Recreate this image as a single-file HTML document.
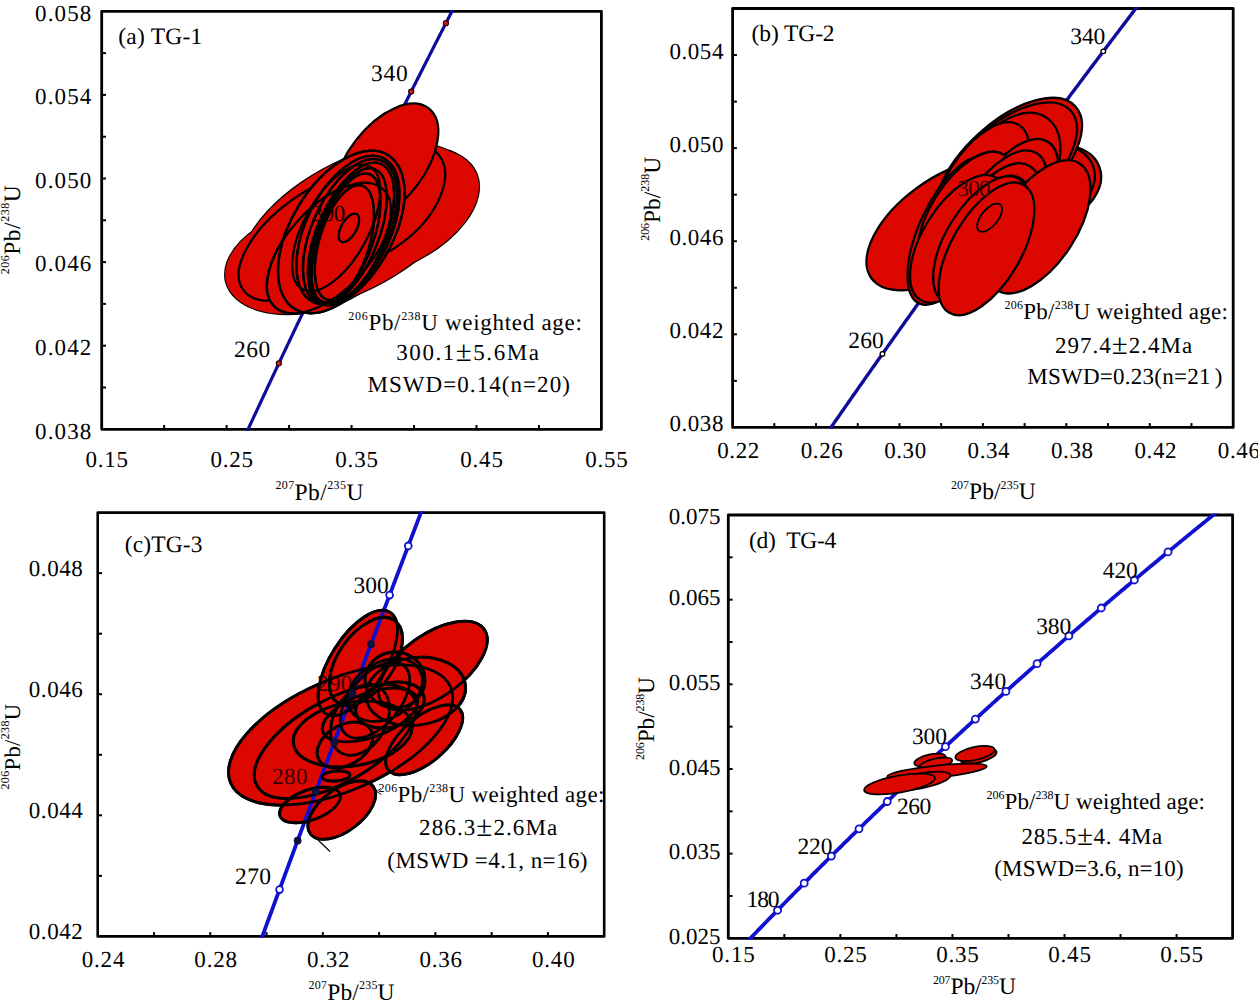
<!DOCTYPE html>
<html><head><meta charset="utf-8"><style>
html,body{margin:0;padding:0;background:#fff;}
body{width:1258px;height:1000px;overflow:hidden;}
svg{display:block;}
text{text-rendering:geometricPrecision;}
</style></head><body>
<svg width="1258" height="1000" viewBox="0 0 1258 1000" font-family='"Liberation Serif", serif'>
<rect width="1258" height="1000" fill="#fff"/>
<rect x="101.70" y="11.30" width="499.70" height="418.00" fill="none" stroke="#000" stroke-width="2.8" stroke-linejoin="round"/>
<clipPath id="clip1"><rect x="100.30" y="9.90" width="502.50" height="420.80"/></clipPath>
<polyline points="244.24,437.58 245.07,435.79 245.90,433.99 246.73,432.20 247.56,430.40 248.39,428.61 249.22,426.82 250.05,425.02 250.88,423.23 251.72,421.43 252.55,419.64 253.38,417.84 254.22,416.05 255.05,414.25 255.89,412.46 256.72,410.66 257.56,408.87 258.39,407.07 259.23,405.27 260.07,403.48 260.91,401.68 261.74,399.88 262.58,398.09 263.42,396.29 264.26,394.49 265.10,392.70 265.94,390.90 266.78,389.10 267.62,387.30 268.46,385.51 269.31,383.71 270.15,381.91 270.99,380.11 271.84,378.32 272.68,376.52 273.52,374.72 274.37,372.92 275.21,371.12 276.06,369.32 276.91,367.52 277.75,365.72 278.60,363.92 279.45,362.12 280.29,360.32 281.14,358.52 281.99,356.72 282.84,354.92 283.69,353.12 284.54,351.32 285.39,349.52 286.24,347.72 287.09,345.92 287.94,344.12 288.80,342.32 289.65,340.52 290.50,338.72 291.36,336.91 292.21,335.11 293.07,333.31 293.92,331.51 294.78,329.71 295.63,327.90 296.49,326.10 297.34,324.30 298.20,322.50 299.06,320.69 299.92,318.89 300.78,317.09 301.64,315.28 302.50,313.48 303.36,311.68 304.22,309.87 305.08,308.07 305.94,306.26 306.80,304.46 307.66,302.65 308.52,300.85 309.39,299.04 310.25,297.24 311.11,295.43 311.98,293.63 312.84,291.82 313.71,290.02 314.58,288.21 315.44,286.41 316.31,284.60 317.18,282.80 318.04,280.99 318.91,279.18 319.78,277.38 320.65,275.57 321.52,273.76 322.39,271.96 323.26,270.15 324.13,268.34 325.00,266.53 325.87,264.73 326.74,262.92 327.62,261.11 328.49,259.30 329.36,257.49 330.24,255.68 331.11,253.88 331.99,252.07 332.86,250.26 333.74,248.45 334.62,246.64 335.49,244.83 336.37,243.02 337.25,241.21 338.13,239.40 339.00,237.59 339.88,235.78 340.76,233.97 341.64,232.16 342.52,230.35 343.40,228.54 344.29,226.73 345.17,224.92 346.05,223.11 346.93,221.30 347.82,219.49 348.70,217.67 349.58,215.86 350.47,214.05 351.35,212.24 352.24,210.43 353.13,208.61 354.01,206.80 354.90,204.99 355.79,203.18 356.67,201.36 357.56,199.55 358.45,197.74 359.34,195.92 360.23,194.11 361.12,192.30 362.01,190.48 362.90,188.67 363.79,186.86 364.69,185.04 365.58,183.23 366.47,181.41 367.37,179.60 368.26,177.78 369.15,175.97 370.05,174.15 370.95,172.34 371.84,170.52 372.74,168.71 373.63,166.89 374.53,165.07 375.43,163.26 376.33,161.44 377.23,159.63 378.13,157.81 379.03,155.99 379.93,154.18 380.83,152.36 381.73,150.54 382.63,148.72 383.53,146.91 384.43,145.09 385.34,143.27 386.24,141.45 387.14,139.64 388.05,137.82 388.95,136.00 389.86,134.18 390.76,132.36 391.67,130.54 392.58,128.73 393.48,126.91 394.39,125.09 395.30,123.27 396.21,121.45 397.12,119.63 398.03,117.81 398.94,115.99 399.85,114.17 400.76,112.35 401.67,110.53 402.58,108.71 403.50,106.89 404.41,105.07 405.32,103.25 406.24,101.42 407.15,99.60 408.07,97.78 408.98,95.96 409.90,94.14 410.81,92.32 411.73,90.49 412.65,88.67 413.56,86.85 414.48,85.03 415.40,83.20 416.32,81.38 417.24,79.56 418.16,77.74 419.08,75.91 420.00,74.09 420.92,72.27 421.85,70.44 422.77,68.62 423.69,66.79 424.62,64.97 425.54,63.15 426.46,61.32 427.39,59.50 428.32,57.67 429.24,55.85 430.17,54.02 431.09,52.20 432.02,50.37 432.95,48.55 433.88,46.72 434.81,44.89 435.74,43.07 436.67,41.24 437.60,39.42 438.53,37.59 439.46,35.76 440.39,33.94 441.32,32.11 442.26,30.28 443.19,28.45 444.12,26.63 445.06,24.80 445.99,22.97 446.93,21.14 447.86,19.32 448.80,17.49 449.74,15.66 450.67,13.83 451.61,12.00 452.55,10.17 453.49,8.35 454.43,6.52 455.37,4.69 456.31,2.86" fill="none" stroke="#0e0c9c" stroke-width="3.2" clip-path="url(#clip1)"/>
<circle cx="278.88" cy="363.32" r="2.5" fill="#cc2020" stroke="#300" stroke-width="1.3"/>
<circle cx="310.99" cy="295.70" r="2.5" fill="#cc2020" stroke="#300" stroke-width="1.3"/>
<circle cx="343.73" cy="227.88" r="2.5" fill="#cc2020" stroke="#300" stroke-width="1.3"/>
<circle cx="377.12" cy="159.84" r="2.5" fill="#cc2020" stroke="#300" stroke-width="1.3"/>
<circle cx="411.18" cy="91.59" r="2.5" fill="#cc2020" stroke="#300" stroke-width="1.3"/>
<circle cx="445.91" cy="23.13" r="2.5" fill="#cc2020" stroke="#300" stroke-width="1.3"/>
<ellipse cx="381.5" cy="213.2" rx="102.8" ry="57.7" transform="rotate(-22.7 381.5 213.2)" fill="#dc0800" stroke="#000" stroke-width="2.3"/>
<ellipse cx="308.6" cy="260.6" rx="85.2" ry="50.5" transform="rotate(-14.7 308.6 260.6)" fill="#dc0800" stroke="#000" stroke-width="2.3"/>
<ellipse cx="353.1" cy="225.8" rx="125.4" ry="63.7" transform="rotate(-29.0 353.1 225.8)" fill="#dc0800" stroke="#000" stroke-width="2.3"/>
<ellipse cx="381.5" cy="213.2" rx="102.8" ry="57.7" transform="rotate(-22.7 381.5 213.2)" fill="#dc0800"/>
<ellipse cx="308.6" cy="260.6" rx="85.2" ry="50.5" transform="rotate(-14.7 308.6 260.6)" fill="#dc0800"/>
<ellipse cx="353.1" cy="225.8" rx="125.4" ry="63.7" transform="rotate(-29.0 353.1 225.8)" fill="#dc0800"/>
<ellipse cx="316" cy="237" rx="90" ry="44" transform="rotate(-36 316 237)" fill="#dc0800" stroke="#000" stroke-width="2.3"/>
<ellipse cx="375.6" cy="204.1" rx="80" ry="46.9" transform="rotate(-37.8 375.6 204.1)" fill="#dc0800" stroke="#000" stroke-width="2.3"/>
<ellipse cx="386.2" cy="163.2" rx="69.4" ry="38" transform="rotate(-52.2 386.2 163.2)" fill="#dc0800" stroke="#000" stroke-width="2.3"/>
<ellipse cx="328.9" cy="248.1" rx="80" ry="41.4" transform="rotate(-47.6 328.9 248.1)" fill="#dc0800" stroke="#000" stroke-width="2.3"/>
<ellipse cx="336.2" cy="228.0" rx="70" ry="32.2" transform="rotate(-61.2 336.2 228.0)" fill="#dc0800" stroke="#000" stroke-width="2.3"/>
<ellipse cx="341.3" cy="232.0" rx="90" ry="50.1" transform="rotate(-58.9 341.3 232.0)" fill="#dc0800" stroke="#000" stroke-width="2.3"/>
<ellipse cx="348" cy="230" rx="80" ry="42" transform="rotate(-64 348 230)" fill="#dc0800" stroke="#000" stroke-width="2.3"/>
<ellipse cx="350" cy="232" rx="78" ry="38" transform="rotate(-66 350 232)" fill="#dc0800" stroke="#000" stroke-width="2.3"/>
<ellipse cx="351" cy="234" rx="76" ry="34" transform="rotate(-67 351 234)" fill="#dc0800" stroke="#000" stroke-width="2.3"/>
<ellipse cx="348" cy="236" rx="72" ry="30" transform="rotate(-68 348 236)" fill="#dc0800" stroke="#000" stroke-width="2.3"/>
<ellipse cx="346" cy="238" rx="68" ry="27" transform="rotate(-70 346 238)" fill="#dc0800" stroke="#000" stroke-width="2.3"/>
<ellipse cx="344.4" cy="242.5" rx="59.6" ry="25.0" transform="rotate(-73.0 344.4 242.5)" fill="#dc0800" stroke="#000" stroke-width="2.3"/>
<ellipse cx="348.9" cy="227.9" rx="15.8" ry="7.7" transform="rotate(-60.7 348.9 227.9)" fill="#dc0800" stroke="#000" stroke-width="2.3"/>
<ellipse cx="328.9" cy="248.1" rx="80" ry="41.4" transform="rotate(-47.6 328.9 248.1)" fill="none" stroke="#000" stroke-width="2.3"/>
<ellipse cx="336.2" cy="228.0" rx="70" ry="32.2" transform="rotate(-61.2 336.2 228.0)" fill="none" stroke="#000" stroke-width="2.3"/>
<ellipse cx="341.3" cy="232.0" rx="90" ry="50.1" transform="rotate(-58.9 341.3 232.0)" fill="none" stroke="#000" stroke-width="2.3"/>
<ellipse cx="348" cy="230" rx="80" ry="42" transform="rotate(-64 348 230)" fill="none" stroke="#000" stroke-width="2.3"/>
<ellipse cx="350" cy="232" rx="78" ry="38" transform="rotate(-66 350 232)" fill="none" stroke="#000" stroke-width="2.3"/>
<ellipse cx="351" cy="234" rx="76" ry="34" transform="rotate(-67 351 234)" fill="none" stroke="#000" stroke-width="2.3"/>
<ellipse cx="348" cy="236" rx="72" ry="30" transform="rotate(-68 348 236)" fill="none" stroke="#000" stroke-width="2.3"/>
<ellipse cx="346" cy="238" rx="68" ry="27" transform="rotate(-70 346 238)" fill="none" stroke="#000" stroke-width="2.3"/>
<ellipse cx="344.4" cy="242.5" rx="59.6" ry="25.0" transform="rotate(-73.0 344.4 242.5)" fill="none" stroke="#000" stroke-width="2.3"/>
<ellipse cx="348.9" cy="227.9" rx="15.8" ry="7.7" transform="rotate(-60.7 348.9 227.9)" fill="none" stroke="#000" stroke-width="1.6"/>
<text x="311.20" y="220.60" font-size="23" textLength="34.00" lengthAdjust="spacing" fill="#120000" >300</text>
<line x1="164.16" y1="429.30" x2="164.16" y2="425.00" stroke="#000" stroke-width="2.0"/>
<line x1="226.62" y1="429.30" x2="226.62" y2="425.00" stroke="#000" stroke-width="2.0"/>
<line x1="289.09" y1="429.30" x2="289.09" y2="425.00" stroke="#000" stroke-width="2.0"/>
<line x1="351.55" y1="429.30" x2="351.55" y2="425.00" stroke="#000" stroke-width="2.0"/>
<line x1="414.01" y1="429.30" x2="414.01" y2="425.00" stroke="#000" stroke-width="2.0"/>
<line x1="476.48" y1="429.30" x2="476.48" y2="425.00" stroke="#000" stroke-width="2.0"/>
<line x1="538.94" y1="429.30" x2="538.94" y2="425.00" stroke="#000" stroke-width="2.0"/>
<line x1="101.70" y1="387.50" x2="106.00" y2="387.50" stroke="#000" stroke-width="2.0"/>
<line x1="101.70" y1="345.70" x2="106.00" y2="345.70" stroke="#000" stroke-width="2.0"/>
<line x1="101.70" y1="303.90" x2="106.00" y2="303.90" stroke="#000" stroke-width="2.0"/>
<line x1="101.70" y1="262.10" x2="106.00" y2="262.10" stroke="#000" stroke-width="2.0"/>
<line x1="101.70" y1="220.30" x2="106.00" y2="220.30" stroke="#000" stroke-width="2.0"/>
<line x1="101.70" y1="178.50" x2="106.00" y2="178.50" stroke="#000" stroke-width="2.0"/>
<line x1="101.70" y1="136.70" x2="106.00" y2="136.70" stroke="#000" stroke-width="2.0"/>
<line x1="101.70" y1="94.90" x2="106.00" y2="94.90" stroke="#000" stroke-width="2.0"/>
<line x1="101.70" y1="53.10" x2="106.00" y2="53.10" stroke="#000" stroke-width="2.0"/>
<text x="107.20" y="466.50" font-size="23" text-anchor="middle" letter-spacing="0.8" fill="#000" >0.15</text>
<text x="232.12" y="466.50" font-size="23" text-anchor="middle" letter-spacing="0.8" fill="#000" >0.25</text>
<text x="357.05" y="466.50" font-size="23" text-anchor="middle" letter-spacing="0.8" fill="#000" >0.35</text>
<text x="481.98" y="466.50" font-size="23" text-anchor="middle" letter-spacing="0.8" fill="#000" >0.45</text>
<text x="606.90" y="466.50" font-size="23" text-anchor="middle" letter-spacing="0.8" fill="#000" >0.55</text>
<text x="35.10" y="438.60" font-size="23" textLength="56.20" lengthAdjust="spacing" fill="#000" >0.038</text>
<text x="35.10" y="355.00" font-size="23" textLength="56.20" lengthAdjust="spacing" fill="#000" >0.042</text>
<text x="35.10" y="271.40" font-size="23" textLength="56.20" lengthAdjust="spacing" fill="#000" >0.046</text>
<text x="35.10" y="187.80" font-size="23" textLength="56.20" lengthAdjust="spacing" fill="#000" >0.050</text>
<text x="35.10" y="104.20" font-size="23" textLength="56.20" lengthAdjust="spacing" fill="#000" >0.054</text>
<text x="35.10" y="20.60" font-size="23" textLength="56.20" lengthAdjust="spacing" fill="#000" >0.058</text>
<text x="275.40" y="499.50" font-size="23.5" textLength="88" lengthAdjust="spacing"><tspan font-size="12" dy="-10.7">207</tspan><tspan dy="10.7">Pb/</tspan><tspan font-size="12" dy="-10.7">235</tspan><tspan dy="10.7">U</tspan></text>
<text transform="translate(19.80,274.30) rotate(-90)" x="0" y="0" font-size="23.5" textLength="89" lengthAdjust="spacing"><tspan font-size="12" dy="-10.7">206</tspan><tspan dy="10.7">Pb/</tspan><tspan font-size="12" dy="-10.7">238</tspan><tspan dy="10.7">U</tspan></text>
<text x="118.30" y="43.60" font-size="23.5" textLength="84.00" lengthAdjust="spacing" fill="#000" >(a) TG-1</text>
<text x="371.10" y="81.40" font-size="23.5" textLength="36.70" lengthAdjust="spacing" fill="#000" >340</text>
<text x="233.90" y="357.40" font-size="23.5" textLength="36.30" lengthAdjust="spacing" fill="#000" >260</text>
<text x="348.30" y="329.80" font-size="23" textLength="233.50" lengthAdjust="spacing"><tspan font-size="12" dy="-10.3">206</tspan><tspan dy="10.3">Pb/</tspan><tspan font-size="12" dy="-10.3">238</tspan><tspan dy="10.3">U weighted age:</tspan></text>
<text x="396.30" y="359.80" font-size="23" textLength="142.60" lengthAdjust="spacing" fill="#000" >300.1<tspan font-size="29" dy="1">&#177;</tspan><tspan dy="-1">5.6Ma</tspan></text>
<text x="367.40" y="392.30" font-size="23" textLength="202.50" lengthAdjust="spacing" fill="#000" >MSWD=0.14(n=20)</text>
<rect x="732.60" y="8.50" width="500.60" height="418.90" fill="none" stroke="#000" stroke-width="2.8" stroke-linejoin="round"/>
<clipPath id="clip2"><rect x="731.20" y="7.10" width="503.40" height="421.70"/></clipPath>
<polyline points="825.21,435.70 826.46,433.91 827.71,432.11 828.96,430.31 830.21,428.51 831.46,426.71 832.71,424.91 833.96,423.11 835.21,421.31 836.46,419.51 837.72,417.71 838.97,415.91 840.23,414.11 841.48,412.31 842.74,410.50 843.99,408.70 845.25,406.90 846.51,405.10 847.76,403.30 849.02,401.50 850.28,399.70 851.54,397.90 852.80,396.09 854.06,394.29 855.32,392.49 856.58,390.69 857.85,388.88 859.11,387.08 860.37,385.28 861.64,383.48 862.90,381.67 864.17,379.87 865.43,378.07 866.70,376.26 867.97,374.46 869.24,372.66 870.50,370.85 871.77,369.05 873.04,367.24 874.31,365.44 875.59,363.64 876.86,361.83 878.13,360.03 879.40,358.22 880.67,356.42 881.95,354.61 883.22,352.81 884.50,351.00 885.77,349.20 887.05,347.39 888.33,345.58 889.61,343.78 890.88,341.97 892.16,340.17 893.44,338.36 894.72,336.55 896.00,334.75 897.28,332.94 898.57,331.13 899.85,329.33 901.13,327.52 902.41,325.71 903.70,323.91 904.98,322.10 906.27,320.29 907.55,318.48 908.84,316.67 910.13,314.87 911.42,313.06 912.71,311.25 913.99,309.44 915.28,307.63 916.57,305.82 917.87,304.02 919.16,302.21 920.45,300.40 921.74,298.59 923.04,296.78 924.33,294.97 925.62,293.16 926.92,291.35 928.21,289.54 929.51,287.73 930.81,285.92 932.11,284.11 933.40,282.30 934.70,280.49 936.00,278.68 937.30,276.87 938.60,275.06 939.90,273.25 941.21,271.43 942.51,269.62 943.81,267.81 945.12,266.00 946.42,264.19 947.73,262.38 949.03,260.56 950.34,258.75 951.64,256.94 952.95,255.13 954.26,253.31 955.57,251.50 956.88,249.69 958.19,247.88 959.50,246.06 960.81,244.25 962.12,242.44 963.43,240.62 964.75,238.81 966.06,237.00 967.38,235.18 968.69,233.37 970.01,231.55 971.32,229.74 972.64,227.92 973.96,226.11 975.28,224.30 976.59,222.48 977.91,220.67 979.23,218.85 980.55,217.03 981.87,215.22 983.20,213.40 984.52,211.59 985.84,209.77 987.17,207.96 988.49,206.14 989.82,204.32 991.14,202.51 992.47,200.69 993.79,198.87 995.12,197.06 996.45,195.24 997.78,193.42 999.11,191.61 1000.44,189.79 1001.77,187.97 1003.10,186.15 1004.43,184.34 1005.76,182.52 1007.10,180.70 1008.43,178.88 1009.76,177.06 1011.10,175.25 1012.44,173.43 1013.77,171.61 1015.11,169.79 1016.45,167.97 1017.78,166.15 1019.12,164.33 1020.46,162.51 1021.80,160.69 1023.14,158.87 1024.48,157.05 1025.83,155.23 1027.17,153.41 1028.51,151.59 1029.86,149.77 1031.20,147.95 1032.55,146.13 1033.89,144.31 1035.24,142.49 1036.59,140.67 1037.93,138.85 1039.28,137.03 1040.63,135.21 1041.98,133.39 1043.33,131.56 1044.68,129.74 1046.03,127.92 1047.39,126.10 1048.74,124.28 1050.09,122.45 1051.45,120.63 1052.80,118.81 1054.16,116.99 1055.51,115.16 1056.87,113.34 1058.23,111.52 1059.58,109.69 1060.94,107.87 1062.30,106.05 1063.66,104.22 1065.02,102.40 1066.38,100.58 1067.74,98.75 1069.11,96.93 1070.47,95.10 1071.83,93.28 1073.20,91.45 1074.56,89.63 1075.93,87.80 1077.30,85.98 1078.66,84.15 1080.03,82.33 1081.40,80.50 1082.77,78.68 1084.14,76.85 1085.51,75.03 1086.88,73.20 1088.25,71.37 1089.62,69.55 1090.99,67.72 1092.37,65.89 1093.74,64.07 1095.12,62.24 1096.49,60.41 1097.87,58.59 1099.24,56.76 1100.62,54.93 1102.00,53.10 1103.38,51.28 1104.76,49.45 1106.14,47.62 1107.52,45.79 1108.90,43.97 1110.28,42.14 1111.66,40.31 1113.05,38.48 1114.43,36.65 1115.82,34.82 1117.20,32.99 1118.59,31.16 1119.97,29.34 1121.36,27.51 1122.75,25.68 1124.14,23.85 1125.53,22.02 1126.92,20.19 1128.31,18.36 1129.70,16.53 1131.09,14.70 1132.48,12.87 1133.87,11.03 1135.27,9.20 1136.66,7.37 1138.06,5.54 1139.45,3.71 1140.85,1.88 1142.25,0.05" fill="none" stroke="#0e0c9c" stroke-width="3.4" clip-path="url(#clip2)"/>
<circle cx="882.43" cy="353.93" r="2.3" fill="#fff" stroke="#000" stroke-width="1.3"/>
<circle cx="936.03" cy="278.64" r="2.3" fill="#fff" stroke="#000" stroke-width="1.3"/>
<circle cx="990.70" cy="203.12" r="2.3" fill="#fff" stroke="#000" stroke-width="1.3"/>
<circle cx="1046.45" cy="127.36" r="2.3" fill="#fff" stroke="#000" stroke-width="1.3"/>
<circle cx="1103.31" cy="51.36" r="2.3" fill="#fff" stroke="#000" stroke-width="1.3"/>
<ellipse cx="944.2" cy="225.4" rx="90" ry="46.3" transform="rotate(-36.0 944.2 225.4)" fill="#dc0800" stroke="#000" stroke-width="2.3"/>
<ellipse cx="1043.3" cy="188.2" rx="60" ry="40.1" transform="rotate(-21.1 1043.3 188.2)" fill="#dc0800" stroke="#000" stroke-width="2.3"/>
<ellipse cx="1037.0" cy="187.3" rx="60" ry="40.1" transform="rotate(-21.1 1037.0 187.3)" fill="#dc0800" stroke="#000" stroke-width="2.3"/>
<ellipse cx="1008.8" cy="167.0" rx="90" ry="44.9" transform="rotate(-42.3 1008.8 167.0)" fill="#dc0800" stroke="#000" stroke-width="2.3"/>
<ellipse cx="1007" cy="168.5" rx="86" ry="43" transform="rotate(-42.3 1007 168.5)" fill="#dc0800" stroke="#000" stroke-width="2.3"/>
<ellipse cx="1007.9" cy="176.1" rx="70" ry="43.1" transform="rotate(-57.0 1007.9 176.1)" fill="#dc0800" stroke="#000" stroke-width="2.3"/>
<ellipse cx="980.9" cy="186.2" rx="72" ry="35" transform="rotate(-58 980.9 186.2)" fill="#dc0800" stroke="#000" stroke-width="2.3"/>
<ellipse cx="1009.8" cy="202.8" rx="72" ry="35" transform="rotate(-58 1009.8 202.8)" fill="#dc0800" stroke="#000" stroke-width="2.3"/>
<ellipse cx="952.9" cy="230.8" rx="80" ry="33.5" transform="rotate(-65.1 952.9 230.8)" fill="#dc0800" stroke="#000" stroke-width="2.3"/>
<ellipse cx="965.6" cy="215.5" rx="72" ry="35" transform="rotate(-58 965.6 215.5)" fill="#dc0800" stroke="#000" stroke-width="2.3"/>
<ellipse cx="998.7" cy="214.3" rx="72" ry="35" transform="rotate(-58 998.7 214.3)" fill="#dc0800" stroke="#000" stroke-width="2.3"/>
<ellipse cx="991.7" cy="227.2" rx="72" ry="35" transform="rotate(-58 991.7 227.2)" fill="#dc0800" stroke="#000" stroke-width="2.3"/>
<ellipse cx="982.8" cy="239.7" rx="72" ry="35" transform="rotate(-58 982.8 239.7)" fill="#dc0800" stroke="#000" stroke-width="2.3"/>
<ellipse cx="958.4" cy="238.8" rx="72" ry="35" transform="rotate(-58 958.4 238.8)" fill="#dc0800" stroke="#000" stroke-width="2.3"/>
<ellipse cx="1038.3" cy="226.8" rx="75.6" ry="37.8" transform="rotate(-56.7 1038.3 226.8)" fill="#dc0800" stroke="#000" stroke-width="2.3"/>
<ellipse cx="981.3" cy="240.1" rx="72" ry="34.8" transform="rotate(-58.2 981.3 240.1)" fill="#dc0800" stroke="#000" stroke-width="2.3"/>
<ellipse cx="986.5" cy="248.9" rx="74" ry="34.7" transform="rotate(-59.8 986.5 248.9)" fill="#dc0800" stroke="#000" stroke-width="2.3"/>
<ellipse cx="989.6" cy="217.7" rx="16.9" ry="8.4" transform="rotate(-50.7 989.6 217.7)" fill="#dc0800" stroke="#000" stroke-width="1.8"/>
<text x="957.50" y="195.80" font-size="23" textLength="33.00" lengthAdjust="spacing" fill="#3a0000" >300</text>
<line x1="774.32" y1="427.40" x2="774.32" y2="423.10" stroke="#000" stroke-width="2.0"/>
<line x1="816.03" y1="427.40" x2="816.03" y2="423.10" stroke="#000" stroke-width="2.0"/>
<line x1="857.75" y1="427.40" x2="857.75" y2="423.10" stroke="#000" stroke-width="2.0"/>
<line x1="899.47" y1="427.40" x2="899.47" y2="423.10" stroke="#000" stroke-width="2.0"/>
<line x1="941.18" y1="427.40" x2="941.18" y2="423.10" stroke="#000" stroke-width="2.0"/>
<line x1="982.90" y1="427.40" x2="982.90" y2="423.10" stroke="#000" stroke-width="2.0"/>
<line x1="1024.62" y1="427.40" x2="1024.62" y2="423.10" stroke="#000" stroke-width="2.0"/>
<line x1="1066.33" y1="427.40" x2="1066.33" y2="423.10" stroke="#000" stroke-width="2.0"/>
<line x1="1108.05" y1="427.40" x2="1108.05" y2="423.10" stroke="#000" stroke-width="2.0"/>
<line x1="1149.77" y1="427.40" x2="1149.77" y2="423.10" stroke="#000" stroke-width="2.0"/>
<line x1="1191.48" y1="427.40" x2="1191.48" y2="423.10" stroke="#000" stroke-width="2.0"/>
<line x1="732.60" y1="380.86" x2="736.90" y2="380.86" stroke="#000" stroke-width="2.0"/>
<line x1="732.60" y1="334.31" x2="736.90" y2="334.31" stroke="#000" stroke-width="2.0"/>
<line x1="732.60" y1="287.77" x2="736.90" y2="287.77" stroke="#000" stroke-width="2.0"/>
<line x1="732.60" y1="241.22" x2="736.90" y2="241.22" stroke="#000" stroke-width="2.0"/>
<line x1="732.60" y1="194.68" x2="736.90" y2="194.68" stroke="#000" stroke-width="2.0"/>
<line x1="732.60" y1="148.13" x2="736.90" y2="148.13" stroke="#000" stroke-width="2.0"/>
<line x1="732.60" y1="101.59" x2="736.90" y2="101.59" stroke="#000" stroke-width="2.0"/>
<line x1="732.60" y1="55.04" x2="736.90" y2="55.04" stroke="#000" stroke-width="2.0"/>
<text x="738.60" y="458.20" font-size="23" text-anchor="middle" letter-spacing="0.6" fill="#000" >0.22</text>
<text x="822.03" y="458.20" font-size="23" text-anchor="middle" letter-spacing="0.6" fill="#000" >0.26</text>
<text x="905.47" y="458.20" font-size="23" text-anchor="middle" letter-spacing="0.6" fill="#000" >0.30</text>
<text x="988.90" y="458.20" font-size="23" text-anchor="middle" letter-spacing="0.6" fill="#000" >0.34</text>
<text x="1072.33" y="458.20" font-size="23" text-anchor="middle" letter-spacing="0.6" fill="#000" >0.38</text>
<text x="1155.77" y="458.20" font-size="23" text-anchor="middle" letter-spacing="0.6" fill="#000" >0.42</text>
<text x="1239.20" y="458.20" font-size="23" text-anchor="middle" letter-spacing="0.6" fill="#000" >0.46</text>
<text x="669.50" y="431.30" font-size="23" textLength="53.90" lengthAdjust="spacing" fill="#000" >0.038</text>
<text x="669.50" y="338.21" font-size="23" textLength="53.90" lengthAdjust="spacing" fill="#000" >0.042</text>
<text x="669.50" y="245.12" font-size="23" textLength="53.90" lengthAdjust="spacing" fill="#000" >0.046</text>
<text x="669.50" y="152.03" font-size="23" textLength="53.90" lengthAdjust="spacing" fill="#000" >0.050</text>
<text x="669.50" y="58.94" font-size="23" textLength="53.90" lengthAdjust="spacing" fill="#000" >0.054</text>
<text x="951.00" y="499.30" font-size="23.5" textLength="84.7" lengthAdjust="spacing"><tspan font-size="12" dy="-10.7">207</tspan><tspan dy="10.7">Pb/</tspan><tspan font-size="12" dy="-10.7">235</tspan><tspan dy="10.7">U</tspan></text>
<text transform="translate(659.90,240.80) rotate(-90)" x="0" y="0" font-size="23.5" textLength="84" lengthAdjust="spacing"><tspan font-size="12" dy="-10.7">206</tspan><tspan dy="10.7">Pb/</tspan><tspan font-size="12" dy="-10.7">238</tspan><tspan dy="10.7">U</tspan></text>
<text x="751.60" y="41.30" font-size="23.5" textLength="83.00" lengthAdjust="spacing" fill="#000" >(b) TG-2</text>
<text x="1070.20" y="43.60" font-size="23.5" textLength="35.10" lengthAdjust="spacing" fill="#000" >340</text>
<text x="848.30" y="347.70" font-size="23.5" textLength="35.40" lengthAdjust="spacing" fill="#000" >260</text>
<text x="1004.40" y="319.40" font-size="23" textLength="223.60" lengthAdjust="spacing"><tspan font-size="12" dy="-10.3">206</tspan><tspan dy="10.3">Pb/</tspan><tspan font-size="12" dy="-10.3">238</tspan><tspan dy="10.3">U weighted age:</tspan></text>
<text x="1055.10" y="352.60" font-size="23" textLength="137.10" lengthAdjust="spacing" fill="#000" >297.4<tspan font-size="29" dy="1">&#177;</tspan><tspan dy="-1">2.4Ma</tspan></text>
<text x="1027.30" y="384.40" font-size="23" textLength="195.00" lengthAdjust="spacing" fill="#000" >MSWD=0.23(n=21<tspan dx="4">)</tspan></text>
<rect x="97.70" y="512.60" width="506.50" height="423.80" fill="none" stroke="#000" stroke-width="2.6" stroke-linejoin="round"/>
<ellipse cx="340.6" cy="735" rx="120" ry="55.5" transform="rotate(-23.7 340.6 735)" fill="#dc0800" stroke="#000" stroke-width="2.8"/>
<ellipse cx="335.3" cy="741.5" rx="90" ry="41.3" transform="rotate(-29.4 335.3 741.5)" fill="#dc0800" stroke="#000" stroke-width="2.8"/>
<ellipse cx="432.9" cy="665.7" rx="62.9" ry="31.3" transform="rotate(-35.5 432.9 665.7)" fill="#dc0800" stroke="#000" stroke-width="2.8"/>
<ellipse cx="357.8" cy="662.9" rx="60" ry="27.2" transform="rotate(-57.4 357.8 662.9)" fill="#dc0800" stroke="#000" stroke-width="2.8"/>
<ellipse cx="365.9" cy="661.4" rx="50" ry="27.8" transform="rotate(-55.1 365.9 661.4)" fill="#dc0800" stroke="#000" stroke-width="2.8"/>
<ellipse cx="415.8" cy="691.4" rx="50" ry="33.9" transform="rotate(-7.8 415.8 691.4)" fill="#dc0800" stroke="#000" stroke-width="2.8"/>
<ellipse cx="424.2" cy="739.8" rx="46.9" ry="22.3" transform="rotate(-40.6 424.2 739.8)" fill="#dc0800" stroke="#000" stroke-width="2.8"/>
<ellipse cx="352.7" cy="734.0" rx="60" ry="31.8" transform="rotate(-9.5 352.7 734.0)" fill="#dc0800" stroke="#000" stroke-width="2.8"/>
<ellipse cx="385" cy="690" rx="40" ry="28" transform="rotate(-30 385 690)" fill="#dc0800" stroke="#000" stroke-width="2.8"/>
<ellipse cx="375" cy="700" rx="45" ry="25" transform="rotate(-50 375 700)" fill="#dc0800" stroke="#000" stroke-width="2.8"/>
<ellipse cx="395" cy="680" rx="30" ry="28" transform="rotate(0 395 680)" fill="#dc0800" stroke="#000" stroke-width="2.8"/>
<ellipse cx="370" cy="715" rx="50" ry="22" transform="rotate(-20 370 715)" fill="#dc0800" stroke="#000" stroke-width="2.8"/>
<ellipse cx="360" cy="720" rx="38" ry="26" transform="rotate(-60 360 720)" fill="#dc0800" stroke="#000" stroke-width="2.8"/>
<ellipse cx="390" cy="705" rx="35" ry="22" transform="rotate(-15 390 705)" fill="#dc0800" stroke="#000" stroke-width="2.8"/>
<ellipse cx="345" cy="745" rx="30" ry="20" transform="rotate(-30 345 745)" fill="#dc0800" stroke="#000" stroke-width="2.8"/>
<ellipse cx="310" cy="805" rx="32" ry="15" transform="rotate(-20 310 805)" fill="#dc0800" stroke="#000" stroke-width="2.8"/>
<ellipse cx="336" cy="776" rx="14" ry="5" transform="rotate(-5 336 776)" fill="#dc0800" stroke="#000" stroke-width="2.8"/>
<ellipse cx="341.8" cy="810.2" rx="39.4" ry="21.1" transform="rotate(-37.2 341.8 810.2)" fill="#dc0800" stroke="#000" stroke-width="2.8"/>
<text x="317.00" y="690.50" font-size="23" textLength="35.30" lengthAdjust="spacing" fill="#3a0000" >290</text>
<clipPath id="clip3"><rect x="96.30" y="511.20" width="509.30" height="426.60"/></clipPath>
<polyline points="259.17,944.85 259.84,943.02 260.52,941.19 261.19,939.36 261.86,937.53 262.54,935.70 263.21,933.87 263.88,932.04 264.56,930.20 265.23,928.37 265.90,926.54 266.58,924.71 267.25,922.88 267.92,921.05 268.60,919.22 269.27,917.39 269.95,915.56 270.62,913.73 271.30,911.90 271.97,910.07 272.65,908.23 273.32,906.40 274.00,904.57 274.67,902.74 275.35,900.91 276.02,899.08 276.70,897.25 277.37,895.42 278.05,893.58 278.73,891.75 279.40,889.92 280.08,888.09 280.75,886.26 281.43,884.43 282.11,882.59 282.78,880.76 283.46,878.93 284.14,877.10 284.81,875.27 285.49,873.43 286.17,871.60 286.85,869.77 287.52,867.94 288.20,866.10 288.88,864.27 289.56,862.44 290.24,860.61 290.91,858.77 291.59,856.94 292.27,855.11 292.95,853.28 293.63,851.44 294.31,849.61 294.99,847.78 295.67,845.95 296.34,844.11 297.02,842.28 297.70,840.45 298.38,838.61 299.06,836.78 299.74,834.95 300.42,833.11 301.10,831.28 301.78,829.45 302.46,827.61 303.14,825.78 303.82,823.95 304.51,822.11 305.19,820.28 305.87,818.45 306.55,816.61 307.23,814.78 307.91,812.94 308.59,811.11 309.27,809.28 309.96,807.44 310.64,805.61 311.32,803.77 312.00,801.94 312.68,800.10 313.37,798.27 314.05,796.44 314.73,794.60 315.41,792.77 316.10,790.93 316.78,789.10 317.46,787.26 318.15,785.43 318.83,783.59 319.51,781.76 320.20,779.92 320.88,778.09 321.56,776.25 322.25,774.42 322.93,772.58 323.62,770.75 324.30,768.91 324.99,767.08 325.67,765.24 326.36,763.41 327.04,761.57 327.73,759.74 328.41,757.90 329.10,756.07 329.78,754.23 330.47,752.40 331.15,750.56 331.84,748.72 332.52,746.89 333.21,745.05 333.90,743.22 334.58,741.38 335.27,739.54 335.96,737.71 336.64,735.87 337.33,734.04 338.02,732.20 338.70,730.36 339.39,728.53 340.08,726.69 340.76,724.85 341.45,723.02 342.14,721.18 342.83,719.35 343.52,717.51 344.20,715.67 344.89,713.83 345.58,712.00 346.27,710.16 346.96,708.32 347.65,706.49 348.33,704.65 349.02,702.81 349.71,700.98 350.40,699.14 351.09,697.30 351.78,695.46 352.47,693.63 353.16,691.79 353.85,689.95 354.54,688.11 355.23,686.28 355.92,684.44 356.61,682.60 357.30,680.76 357.99,678.93 358.68,677.09 359.37,675.25 360.06,673.41 360.75,671.57 361.45,669.74 362.14,667.90 362.83,666.06 363.52,664.22 364.21,662.38 364.90,660.55 365.60,658.71 366.29,656.87 366.98,655.03 367.67,653.19 368.37,651.35 369.06,649.51 369.75,647.68 370.44,645.84 371.14,644.00 371.83,642.16 372.52,640.32 373.22,638.48 373.91,636.64 374.60,634.80 375.30,632.96 375.99,631.13 376.69,629.29 377.38,627.45 378.07,625.61 378.77,623.77 379.46,621.93 380.16,620.09 380.85,618.25 381.55,616.41 382.24,614.57 382.94,612.73 383.63,610.89 384.33,609.05 385.02,607.21 385.72,605.37 386.42,603.53 387.11,601.69 387.81,599.85 388.50,598.01 389.20,596.17 389.90,594.33 390.59,592.49 391.29,590.65 391.99,588.81 392.68,586.97 393.38,585.13 394.08,583.29 394.78,581.45 395.47,579.61 396.17,577.77 396.87,575.93 397.57,574.09 398.26,572.24 398.96,570.40 399.66,568.56 400.36,566.72 401.06,564.88 401.76,563.04 402.45,561.20 403.15,559.36 403.85,557.52 404.55,555.67 405.25,553.83 405.95,551.99 406.65,550.15 407.35,548.31 408.05,546.47 408.75,544.63 409.45,542.78 410.15,540.94 410.85,539.10 411.55,537.26 412.25,535.42 412.95,533.57 413.65,531.73 414.35,529.89 415.05,528.05 415.76,526.21 416.46,524.36 417.16,522.52 417.86,520.68 418.56,518.84 419.26,516.99 419.97,515.15 420.67,513.31 421.37,511.47 422.07,509.62 422.78,507.78 423.48,505.94 424.18,504.10" fill="none" stroke="#1010d0" stroke-width="3.8" clip-path="url(#clip3)"/>
<ellipse cx="340.6" cy="735" rx="120" ry="55.5" transform="rotate(-23.7 340.6 735)" fill="none" stroke="#000" stroke-width="2.8"/>
<ellipse cx="335.3" cy="741.5" rx="90" ry="41.3" transform="rotate(-29.4 335.3 741.5)" fill="none" stroke="#000" stroke-width="2.8"/>
<ellipse cx="432.9" cy="665.7" rx="62.9" ry="31.3" transform="rotate(-35.5 432.9 665.7)" fill="none" stroke="#000" stroke-width="2.8"/>
<ellipse cx="357.8" cy="662.9" rx="60" ry="27.2" transform="rotate(-57.4 357.8 662.9)" fill="none" stroke="#000" stroke-width="2.8"/>
<ellipse cx="365.9" cy="661.4" rx="50" ry="27.8" transform="rotate(-55.1 365.9 661.4)" fill="none" stroke="#000" stroke-width="2.8"/>
<ellipse cx="415.8" cy="691.4" rx="50" ry="33.9" transform="rotate(-7.8 415.8 691.4)" fill="none" stroke="#000" stroke-width="2.8"/>
<ellipse cx="424.2" cy="739.8" rx="46.9" ry="22.3" transform="rotate(-40.6 424.2 739.8)" fill="none" stroke="#000" stroke-width="2.8"/>
<ellipse cx="352.7" cy="734.0" rx="60" ry="31.8" transform="rotate(-9.5 352.7 734.0)" fill="none" stroke="#000" stroke-width="2.8"/>
<ellipse cx="385" cy="690" rx="40" ry="28" transform="rotate(-30 385 690)" fill="none" stroke="#000" stroke-width="2.8"/>
<ellipse cx="375" cy="700" rx="45" ry="25" transform="rotate(-50 375 700)" fill="none" stroke="#000" stroke-width="2.8"/>
<ellipse cx="395" cy="680" rx="30" ry="28" transform="rotate(0 395 680)" fill="none" stroke="#000" stroke-width="2.8"/>
<ellipse cx="370" cy="715" rx="50" ry="22" transform="rotate(-20 370 715)" fill="none" stroke="#000" stroke-width="2.8"/>
<ellipse cx="360" cy="720" rx="38" ry="26" transform="rotate(-60 360 720)" fill="none" stroke="#000" stroke-width="2.8"/>
<ellipse cx="390" cy="705" rx="35" ry="22" transform="rotate(-15 390 705)" fill="none" stroke="#000" stroke-width="2.8"/>
<ellipse cx="345" cy="745" rx="30" ry="20" transform="rotate(-30 345 745)" fill="none" stroke="#000" stroke-width="2.8"/>
<ellipse cx="310" cy="805" rx="32" ry="15" transform="rotate(-20 310 805)" fill="none" stroke="#000" stroke-width="2.8"/>
<ellipse cx="336" cy="776" rx="14" ry="5" transform="rotate(-5 336 776)" fill="none" stroke="#000" stroke-width="2.8"/>
<ellipse cx="341.8" cy="810.2" rx="39.4" ry="21.1" transform="rotate(-37.2 341.8 810.2)" fill="none" stroke="#000" stroke-width="2.8"/>
<circle cx="297.65" cy="840.60" r="3.3" fill="#101040" stroke="#101040" stroke-width="1.2"/>
<circle cx="315.86" cy="791.58" r="3.3" fill="#101040" stroke="#101040" stroke-width="1.2"/>
<circle cx="334.16" cy="742.51" r="3.3" fill="#101040" stroke="#101040" stroke-width="1.2"/>
<circle cx="352.55" cy="693.41" r="3.3" fill="#101040" stroke="#101040" stroke-width="1.2"/>
<circle cx="371.03" cy="644.27" r="3.3" fill="#101040" stroke="#101040" stroke-width="1.2"/>
<circle cx="279.53" cy="889.59" r="3.4" fill="#fff" stroke="#1010d0" stroke-width="1.8"/>
<circle cx="389.61" cy="595.10" r="3.4" fill="#fff" stroke="#1010d0" stroke-width="1.8"/>
<circle cx="408.27" cy="545.88" r="3.4" fill="#fff" stroke="#1010d0" stroke-width="1.8"/>
<text x="272.20" y="783.80" font-size="23" textLength="35.30" lengthAdjust="spacing" fill="#3a0000" >280</text>
<path d="M316.5,838.5 L330,851.5" stroke="#000" stroke-width="1.2" fill="none"/>
<path d="M381,788.5 L376.5,791.5 L381.5,794.5" stroke="#000" stroke-width="0.9" fill="none"/>
<line x1="153.98" y1="936.40" x2="153.98" y2="932.10" stroke="#000" stroke-width="2.0"/>
<line x1="210.26" y1="936.40" x2="210.26" y2="932.10" stroke="#000" stroke-width="2.0"/>
<line x1="266.53" y1="936.40" x2="266.53" y2="932.10" stroke="#000" stroke-width="2.0"/>
<line x1="322.81" y1="936.40" x2="322.81" y2="932.10" stroke="#000" stroke-width="2.0"/>
<line x1="379.09" y1="936.40" x2="379.09" y2="932.10" stroke="#000" stroke-width="2.0"/>
<line x1="435.37" y1="936.40" x2="435.37" y2="932.10" stroke="#000" stroke-width="2.0"/>
<line x1="491.64" y1="936.40" x2="491.64" y2="932.10" stroke="#000" stroke-width="2.0"/>
<line x1="547.92" y1="936.40" x2="547.92" y2="932.10" stroke="#000" stroke-width="2.0"/>
<line x1="97.70" y1="875.86" x2="102.00" y2="875.86" stroke="#000" stroke-width="2.0"/>
<line x1="97.70" y1="815.31" x2="102.00" y2="815.31" stroke="#000" stroke-width="2.0"/>
<line x1="97.70" y1="754.77" x2="102.00" y2="754.77" stroke="#000" stroke-width="2.0"/>
<line x1="97.70" y1="694.23" x2="102.00" y2="694.23" stroke="#000" stroke-width="2.0"/>
<line x1="97.70" y1="633.69" x2="102.00" y2="633.69" stroke="#000" stroke-width="2.0"/>
<line x1="97.70" y1="573.14" x2="102.00" y2="573.14" stroke="#000" stroke-width="2.0"/>
<text x="103.50" y="966.80" font-size="23" text-anchor="middle" letter-spacing="0.8" fill="#000" >0.24</text>
<text x="216.06" y="966.80" font-size="23" text-anchor="middle" letter-spacing="0.8" fill="#000" >0.28</text>
<text x="328.61" y="966.80" font-size="23" text-anchor="middle" letter-spacing="0.8" fill="#000" >0.32</text>
<text x="441.17" y="966.80" font-size="23" text-anchor="middle" letter-spacing="0.8" fill="#000" >0.36</text>
<text x="553.72" y="966.80" font-size="23" text-anchor="middle" letter-spacing="0.8" fill="#000" >0.40</text>
<text x="28.80" y="939.40" font-size="23" textLength="53.90" lengthAdjust="spacing" fill="#000" >0.042</text>
<text x="28.80" y="818.31" font-size="23" textLength="53.90" lengthAdjust="spacing" fill="#000" >0.044</text>
<text x="28.80" y="697.23" font-size="23" textLength="53.90" lengthAdjust="spacing" fill="#000" >0.046</text>
<text x="28.80" y="576.14" font-size="23" textLength="53.90" lengthAdjust="spacing" fill="#000" >0.048</text>
<text x="308.60" y="1000.00" font-size="23.5" textLength="86" lengthAdjust="spacing"><tspan font-size="12" dy="-10.7">207</tspan><tspan dy="10.7">Pb/</tspan><tspan font-size="12" dy="-10.7">235</tspan><tspan dy="10.7">U</tspan></text>
<text transform="translate(19.50,789.50) rotate(-90)" x="0" y="0" font-size="22.5" textLength="85.5" lengthAdjust="spacing"><tspan font-size="12" dy="-10.7">206</tspan><tspan dy="10.7">Pb/</tspan><tspan font-size="12" dy="-10.7">238</tspan><tspan dy="10.7">U</tspan></text>
<text x="124.70" y="551.70" font-size="23.5" textLength="77.90" lengthAdjust="spacing" fill="#000" >(c)TG-3</text>
<text x="353.50" y="592.90" font-size="23.5" textLength="35.30" lengthAdjust="spacing" fill="#000" >300</text>
<text x="235.10" y="883.90" font-size="23.5" textLength="36.00" lengthAdjust="spacing" fill="#000" >270</text>
<text x="378.40" y="802.40" font-size="23" textLength="226.00" lengthAdjust="spacing"><tspan font-size="12" dy="-10.3">206</tspan><tspan dy="10.3">Pb/</tspan><tspan font-size="12" dy="-10.3">238</tspan><tspan dy="10.3">U weighted age:</tspan></text>
<text x="419.10" y="835.20" font-size="23" textLength="138.10" lengthAdjust="spacing" fill="#000" >286.3<tspan font-size="29" dy="1">&#177;</tspan><tspan dy="-1">2.6Ma</tspan></text>
<text x="387.30" y="867.80" font-size="23" textLength="200.20" lengthAdjust="spacing" fill="#000" xml:space="preserve">(MSWD =4.1, n=16)</text>
<rect x="728.30" y="515.00" width="504.30" height="423.30" fill="none" stroke="#000" stroke-width="2.8" stroke-linejoin="round"/>
<clipPath id="clip4"><rect x="726.90" y="513.60" width="507.10" height="426.10"/></clipPath>
<polyline points="742.50,946.56 744.21,944.77 745.92,942.98 747.63,941.19 749.35,939.40 751.06,937.61 752.78,935.82 754.51,934.03 756.23,932.24 757.96,930.44 759.68,928.65 761.42,926.86 763.15,925.06 764.88,923.27 766.62,921.48 768.36,919.68 770.10,917.89 771.85,916.09 773.60,914.30 775.35,912.50 777.10,910.70 778.85,908.91 780.61,907.11 782.36,905.31 784.13,903.51 785.89,901.71 787.65,899.92 789.42,898.12 791.19,896.32 792.96,894.52 794.74,892.72 796.52,890.92 798.29,889.12 800.08,887.31 801.86,885.51 803.65,883.71 805.43,881.91 807.23,880.11 809.02,878.30 810.81,876.50 812.61,874.70 814.41,872.89 816.22,871.09 818.02,869.28 819.83,867.48 821.64,865.67 823.45,863.86 825.26,862.06 827.08,860.25 828.90,858.44 830.72,856.64 832.55,854.83 834.37,853.02 836.20,851.21 838.03,849.40 839.87,847.59 841.70,845.78 843.54,843.97 845.38,842.16 847.23,840.35 849.07,838.54 850.92,836.73 852.77,834.92 854.62,833.10 856.48,831.29 858.34,829.48 860.20,827.66 862.06,825.85 863.92,824.03 865.79,822.22 867.66,820.40 869.53,818.59 871.41,816.77 873.29,814.96 875.17,813.14 877.05,811.32 878.93,809.51 880.82,807.69 882.71,805.87 884.60,804.05 886.50,802.23 888.40,800.41 890.29,798.59 892.20,796.77 894.10,794.95 896.01,793.13 897.92,791.31 899.83,789.49 901.75,787.67 903.66,785.85 905.58,784.02 907.50,782.20 909.43,780.38 911.36,778.55 913.29,776.73 915.22,774.91 917.15,773.08 919.09,771.25 921.03,769.43 922.97,767.60 924.92,765.78 926.87,763.95 928.82,762.12 930.77,760.30 932.72,758.47 934.68,756.64 936.64,754.81 938.61,752.98 940.57,751.15 942.54,749.32 944.51,747.49 946.48,745.66 948.46,743.83 950.44,742.00 952.42,740.17 954.40,738.34 956.39,736.50 958.38,734.67 960.37,732.84 962.36,731.00 964.36,729.17 966.36,727.34 968.36,725.50 970.37,723.67 972.37,721.83 974.38,719.99 976.39,718.16 978.41,716.32 980.43,714.48 982.45,712.65 984.47,710.81 986.50,708.97 988.52,707.13 990.56,705.29 992.59,703.46 994.63,701.62 996.66,699.78 998.71,697.94 1000.75,696.09 1002.80,694.25 1004.85,692.41 1006.90,690.57 1008.95,688.73 1011.01,686.88 1013.07,685.04 1015.14,683.20 1017.20,681.35 1019.27,679.51 1021.34,677.67 1023.42,675.82 1025.49,673.98 1027.57,672.13 1029.65,670.28 1031.74,668.44 1033.83,666.59 1035.92,664.74 1038.01,662.90 1040.11,661.05 1042.20,659.20 1044.31,657.35 1046.41,655.50 1048.52,653.65 1050.63,651.80 1052.74,649.95 1054.85,648.10 1056.97,646.25 1059.09,644.40 1061.22,642.55 1063.34,640.69 1065.47,638.84 1067.60,636.99 1069.74,635.14 1071.88,633.28 1074.02,631.43 1076.16,629.57 1078.31,627.72 1080.45,625.86 1082.61,624.01 1084.76,622.15 1086.92,620.29 1089.08,618.44 1091.24,616.58 1093.41,614.72 1095.57,612.87 1097.75,611.01 1099.92,609.15 1102.10,607.29 1104.28,605.43 1106.46,603.57 1108.64,601.71 1110.83,599.85 1113.02,597.99 1115.22,596.13 1117.42,594.27 1119.62,592.40 1121.82,590.54 1124.02,588.68 1126.23,586.81 1128.44,584.95 1130.66,583.09 1132.88,581.22 1135.10,579.36 1137.32,577.49 1139.55,575.63 1141.78,573.76 1144.01,571.89 1146.24,570.03 1148.48,568.16 1150.72,566.29 1152.96,564.42 1155.21,562.56 1157.46,560.69 1159.71,558.82 1161.97,556.95 1164.23,555.08 1166.49,553.21 1168.75,551.34 1171.02,549.47 1173.29,547.60 1175.56,545.72 1177.84,543.85 1180.12,541.98 1182.40,540.11 1184.69,538.23 1186.97,536.36 1189.27,534.48 1191.56,532.61 1193.86,530.74 1196.16,528.86 1198.46,526.98 1200.77,525.11 1203.08,523.23 1205.39,521.36 1207.70,519.48 1210.02,517.60 1212.34,515.72 1214.67,513.84 1216.99,511.97 1219.33,510.09 1221.66,508.21 1224.00,506.33" fill="none" stroke="#1010d0" stroke-width="3.8" clip-path="url(#clip4)"/>
<circle cx="777.56" cy="910.23" r="3.5" fill="#fff" stroke="#1010d0" stroke-width="1.8"/>
<circle cx="804.18" cy="883.18" r="3.5" fill="#fff" stroke="#1010d0" stroke-width="1.8"/>
<circle cx="831.32" cy="856.04" r="3.5" fill="#fff" stroke="#1010d0" stroke-width="1.8"/>
<circle cx="859.01" cy="828.82" r="3.5" fill="#fff" stroke="#1010d0" stroke-width="1.8"/>
<circle cx="887.25" cy="801.52" r="3.5" fill="#fff" stroke="#1010d0" stroke-width="1.8"/>
<circle cx="916.04" cy="774.13" r="3.5" fill="#fff" stroke="#1010d0" stroke-width="1.8"/>
<circle cx="945.42" cy="746.65" r="3.5" fill="#fff" stroke="#1010d0" stroke-width="1.8"/>
<circle cx="975.37" cy="719.09" r="3.5" fill="#fff" stroke="#1010d0" stroke-width="1.8"/>
<circle cx="1005.92" cy="691.45" r="3.5" fill="#fff" stroke="#1010d0" stroke-width="1.8"/>
<circle cx="1037.08" cy="663.72" r="3.5" fill="#fff" stroke="#1010d0" stroke-width="1.8"/>
<circle cx="1068.86" cy="635.90" r="3.5" fill="#fff" stroke="#1010d0" stroke-width="1.8"/>
<circle cx="1101.27" cy="607.99" r="3.5" fill="#fff" stroke="#1010d0" stroke-width="1.8"/>
<circle cx="1134.33" cy="580.00" r="3.5" fill="#fff" stroke="#1010d0" stroke-width="1.8"/>
<circle cx="1168.04" cy="551.93" r="3.5" fill="#fff" stroke="#1010d0" stroke-width="1.8"/>
<ellipse cx="978.5" cy="756" rx="18.5" ry="6.5" transform="rotate(-14 978.5 756)" fill="#dc0800" stroke="#000" stroke-width="1.8"/>
<ellipse cx="975" cy="753.5" rx="20" ry="6.5" transform="rotate(-12 975 753.5)" fill="#dc0800" stroke="#000" stroke-width="1.8"/>
<ellipse cx="930" cy="760" rx="16" ry="5.5" transform="rotate(-13 930 760)" fill="#dc0800" stroke="#000" stroke-width="1.8"/>
<ellipse cx="936" cy="763.5" rx="16.5" ry="5" transform="rotate(-12 936 763.5)" fill="#dc0800" stroke="#000" stroke-width="1.8"/>
<ellipse cx="937" cy="771.5" rx="50" ry="6" transform="rotate(-6 937 771.5)" fill="#dc0800" stroke="#000" stroke-width="1.8"/>
<ellipse cx="920" cy="781" rx="31" ry="7.5" transform="rotate(-11 920 781)" fill="#dc0800" stroke="#000" stroke-width="1.8"/>
<ellipse cx="899.5" cy="784" rx="36" ry="8.5" transform="rotate(-10 899.5 784)" fill="#dc0800" stroke="#000" stroke-width="1.8"/>
<line x1="784.33" y1="938.30" x2="784.33" y2="934.00" stroke="#000" stroke-width="2.0"/>
<line x1="840.37" y1="938.30" x2="840.37" y2="934.00" stroke="#000" stroke-width="2.0"/>
<line x1="896.40" y1="938.30" x2="896.40" y2="934.00" stroke="#000" stroke-width="2.0"/>
<line x1="952.43" y1="938.30" x2="952.43" y2="934.00" stroke="#000" stroke-width="2.0"/>
<line x1="1008.47" y1="938.30" x2="1008.47" y2="934.00" stroke="#000" stroke-width="2.0"/>
<line x1="1064.50" y1="938.30" x2="1064.50" y2="934.00" stroke="#000" stroke-width="2.0"/>
<line x1="1120.53" y1="938.30" x2="1120.53" y2="934.00" stroke="#000" stroke-width="2.0"/>
<line x1="1176.57" y1="938.30" x2="1176.57" y2="934.00" stroke="#000" stroke-width="2.0"/>
<line x1="728.30" y1="895.97" x2="732.60" y2="895.97" stroke="#000" stroke-width="2.0"/>
<line x1="728.30" y1="853.64" x2="732.60" y2="853.64" stroke="#000" stroke-width="2.0"/>
<line x1="728.30" y1="811.31" x2="732.60" y2="811.31" stroke="#000" stroke-width="2.0"/>
<line x1="728.30" y1="768.98" x2="732.60" y2="768.98" stroke="#000" stroke-width="2.0"/>
<line x1="728.30" y1="726.65" x2="732.60" y2="726.65" stroke="#000" stroke-width="2.0"/>
<line x1="728.30" y1="684.32" x2="732.60" y2="684.32" stroke="#000" stroke-width="2.0"/>
<line x1="728.30" y1="641.99" x2="732.60" y2="641.99" stroke="#000" stroke-width="2.0"/>
<line x1="728.30" y1="599.66" x2="732.60" y2="599.66" stroke="#000" stroke-width="2.0"/>
<line x1="728.30" y1="557.33" x2="732.60" y2="557.33" stroke="#000" stroke-width="2.0"/>
<text x="733.80" y="961.70" font-size="23" text-anchor="middle" letter-spacing="0.8" fill="#000" >0.15</text>
<text x="845.87" y="961.70" font-size="23" text-anchor="middle" letter-spacing="0.8" fill="#000" >0.25</text>
<text x="957.93" y="961.70" font-size="23" text-anchor="middle" letter-spacing="0.8" fill="#000" >0.35</text>
<text x="1070.00" y="961.70" font-size="23" text-anchor="middle" letter-spacing="0.8" fill="#000" >0.45</text>
<text x="1182.07" y="961.70" font-size="23" text-anchor="middle" letter-spacing="0.8" fill="#000" >0.55</text>
<text x="668.70" y="944.00" font-size="23" textLength="51.80" lengthAdjust="spacing" fill="#000" >0.025</text>
<text x="668.70" y="859.34" font-size="23" textLength="51.80" lengthAdjust="spacing" fill="#000" >0.035</text>
<text x="668.70" y="774.68" font-size="23" textLength="51.80" lengthAdjust="spacing" fill="#000" >0.045</text>
<text x="668.70" y="690.02" font-size="23" textLength="51.80" lengthAdjust="spacing" fill="#000" >0.055</text>
<text x="668.70" y="605.36" font-size="23" textLength="51.80" lengthAdjust="spacing" fill="#000" >0.065</text>
<text x="668.70" y="524.40" font-size="23" textLength="51.80" lengthAdjust="spacing" fill="#000" >0.075</text>
<text x="932.90" y="994.40" font-size="23.5" textLength="83" lengthAdjust="spacing"><tspan font-size="12" dy="-10.7">207</tspan><tspan dy="10.7">Pb/</tspan><tspan font-size="12" dy="-10.7">235</tspan><tspan dy="10.7">U</tspan></text>
<text transform="translate(654.30,759.90) rotate(-90)" x="0" y="0" font-size="23.5" textLength="83" lengthAdjust="spacing"><tspan font-size="12" dy="-10.7">206</tspan><tspan dy="10.7">Pb/</tspan><tspan font-size="12" dy="-10.7">238</tspan><tspan dy="10.7">U</tspan></text>
<text x="749.00" y="548.00" font-size="23.5" textLength="87.30" lengthAdjust="spacing" fill="#000" xml:space="preserve">(d)  TG-4</text>
<text x="746.60" y="907.30" font-size="23.5" textLength="32.80" lengthAdjust="spacing" fill="#000" >180</text>
<text x="797.50" y="854.30" font-size="23.5" textLength="34.90" lengthAdjust="spacing" fill="#000" >220</text>
<text x="897.10" y="814.00" font-size="23.5" textLength="34.10" lengthAdjust="spacing" fill="#000" >260</text>
<text x="912.00" y="744.00" font-size="23.5" textLength="34.90" lengthAdjust="spacing" fill="#000" >300</text>
<text x="970.10" y="688.90" font-size="23.5" textLength="36.20" lengthAdjust="spacing" fill="#000" >340</text>
<text x="1036.20" y="633.70" font-size="23.5" textLength="35.00" lengthAdjust="spacing" fill="#000" >380</text>
<text x="1102.80" y="577.80" font-size="23.5" textLength="34.90" lengthAdjust="spacing" fill="#000" >420</text>
<text x="986.40" y="808.80" font-size="23" textLength="218.60" lengthAdjust="spacing"><tspan font-size="12" dy="-10.3">206</tspan><tspan dy="10.3">Pb/</tspan><tspan font-size="12" dy="-10.3">238</tspan><tspan dy="10.3">U weighted age:</tspan></text>
<text x="1021.60" y="844.00" font-size="23" textLength="140.70" lengthAdjust="spacing" fill="#000" xml:space="preserve">285.5<tspan font-size="29" dy="1">&#177;</tspan><tspan dy="-1">4. 4Ma</tspan></text>
<text x="994.30" y="876.40" font-size="23" textLength="189.30" lengthAdjust="spacing" fill="#000" xml:space="preserve">(MSWD=3.6, n=10)</text>
</svg>
</body></html>
